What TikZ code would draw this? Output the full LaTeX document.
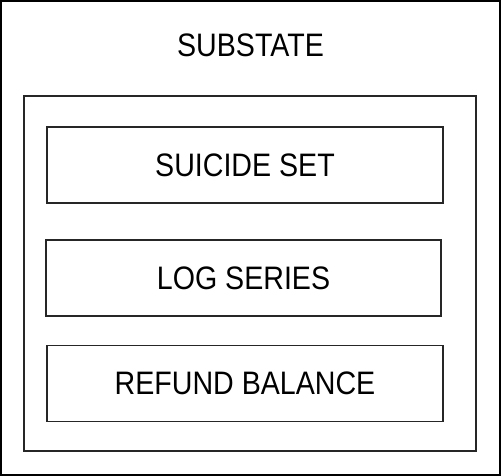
\documentclass[tikz,border=0pt]{standalone}
\usepackage{fontspec}
\setmainfont[FakeStretch=0.88]{Liberation Sans}
\begin{document}
\begin{tikzpicture}[x=1pt,y=-1pt,
  frame/.style={draw=black!85,line width=1.6pt},
  itembox/.style={frame,minimum width=396pt,minimum height=76pt,inner sep=0pt,font=\fontsize{32.5}{36}\selectfont},
  title/.style={font=\fontsize{32.5}{36}\selectfont,inner sep=0pt}]
\useasboundingbox (0,0) rectangle (501,476);
\draw[draw=black,line width=2pt] (1,1) rectangle (500,475);
\node[title] (t) at (250.5,45) {SUBSTATE};
\node[frame,minimum width=452pt,minimum height=355pt,inner sep=0pt] (inner) at (250,273.5) {};
\node[itembox] (s1) at (245,165) {SUICIDE SET};
\node[itembox,minimum width=395pt] (s2) at (243.5,278) {LOG SERIES};
\node[itembox] (s3) at (245,383.5) {REFUND BALANCE};
\end{tikzpicture}
\end{document}
